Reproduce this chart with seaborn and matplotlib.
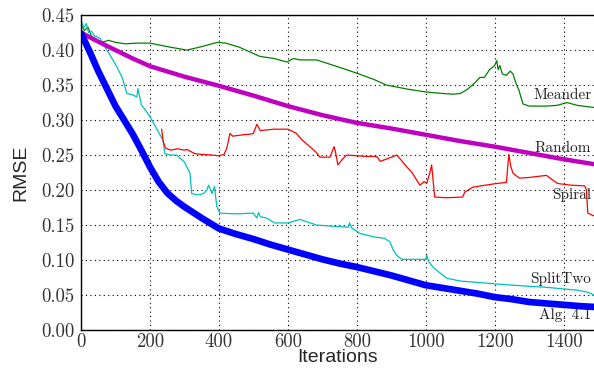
import numpy as np
import pandas as pd
import matplotlib
matplotlib.use("Agg")
import matplotlib.pyplot as plt
import seaborn as sns
from matplotlib.ticker import MultipleLocator

# ---- data ----
alg_x = [0, 25, 50, 75, 100, 125, 150, 175, 200, 225, 250, 275, 300, 350, 400, 450, 500, 550, 600, 650, 700, 750, 800, 850, 900, 950, 1000, 1050, 1100, 1150, 1200, 1250, 1300, 1350, 1400, 1450, 1488]
alg_y = [0.424, 0.398, 0.370, 0.345, 0.320, 0.300, 0.280, 0.257, 0.233, 0.212, 0.196, 0.185, 0.176, 0.160, 0.145, 0.137, 0.130, 0.122, 0.115, 0.108, 0.101, 0.095, 0.090, 0.084, 0.078, 0.071, 0.064, 0.060, 0.056, 0.052, 0.047, 0.044, 0.040, 0.038, 0.036, 0.034, 0.033]

rand_x = [0, 50, 100, 150, 200, 300, 400, 500, 600, 700, 800, 900, 1000, 1100, 1200, 1300, 1400, 1488]
rand_y = [0.425, 0.412, 0.400, 0.388, 0.377, 0.362, 0.349, 0.335, 0.320, 0.307, 0.296, 0.288, 0.279, 0.270, 0.262, 0.253, 0.244, 0.237]

mean_x = [0, 10, 20, 30, 45, 60, 80, 100, 130, 160, 200, 250, 307, 350, 394, 420, 460, 519, 560, 597, 616, 635, 683, 740, 800, 850, 886, 950, 1003, 1050, 1080, 1100, 1118, 1140, 1157, 1170, 1185, 1200, 1206, 1210, 1215, 1222, 1234, 1245, 1253, 1262, 1270, 1282, 1300, 1350, 1380, 1410, 1440, 1488]
mean_y = [0.436, 0.428, 0.433, 0.420, 0.415, 0.411, 0.414, 0.411, 0.409, 0.410, 0.410, 0.405, 0.400, 0.405, 0.411, 0.410, 0.404, 0.391, 0.388, 0.383, 0.388, 0.386, 0.386, 0.377, 0.367, 0.358, 0.350, 0.344, 0.340, 0.338, 0.337, 0.338, 0.343, 0.352, 0.361, 0.361, 0.372, 0.378, 0.385, 0.372, 0.378, 0.366, 0.364, 0.370, 0.366, 0.352, 0.343, 0.323, 0.320, 0.320, 0.321, 0.325, 0.321, 0.318]

spir_x = [234, 238, 245, 260, 280, 300, 307, 330, 350, 380, 400, 415, 423, 432, 440, 470, 493, 500, 510, 520, 560, 600, 625, 640, 664, 680, 693, 722, 734, 738, 745, 760, 771, 800, 830, 858, 868, 890, 916, 930, 945, 960, 983, 995, 1003, 1012, 1017, 1022, 1026, 1060, 1107, 1113, 1136, 1160, 1200, 1234, 1238, 1241, 1246, 1253, 1272, 1300, 1350, 1380, 1388, 1420, 1461, 1466, 1470, 1488]
spir_y = [0.287, 0.270, 0.260, 0.257, 0.259, 0.257, 0.258, 0.252, 0.251, 0.250, 0.249, 0.251, 0.260, 0.281, 0.277, 0.279, 0.280, 0.281, 0.294, 0.285, 0.287, 0.287, 0.281, 0.272, 0.262, 0.255, 0.247, 0.247, 0.262, 0.255, 0.236, 0.245, 0.250, 0.249, 0.248, 0.248, 0.241, 0.245, 0.250, 0.242, 0.233, 0.225, 0.207, 0.212, 0.210, 0.225, 0.236, 0.210, 0.190, 0.189, 0.190, 0.197, 0.204, 0.206, 0.209, 0.211, 0.235, 0.251, 0.235, 0.224, 0.217, 0.218, 0.221, 0.210, 0.209, 0.207, 0.206, 0.200, 0.167, 0.163]

split_x = [0, 8, 15, 22, 30, 40, 55, 70, 84, 104, 120, 133, 150, 162, 165, 175, 200, 220, 238, 243, 260, 277, 300, 316, 321, 340, 355, 365, 370, 380, 387, 394, 403, 450, 500, 510, 515, 520, 538, 562, 600, 635, 683, 740, 775, 779, 785, 809, 850, 880, 896, 905, 915, 930, 970, 1000, 1003, 1008, 1021, 1040, 1061, 1100, 1200, 1282, 1350, 1437, 1470, 1488]
split_y = [0.443, 0.432, 0.438, 0.425, 0.427, 0.420, 0.417, 0.404, 0.393, 0.376, 0.360, 0.338, 0.336, 0.333, 0.345, 0.322, 0.305, 0.287, 0.271, 0.252, 0.250, 0.250, 0.240, 0.224, 0.195, 0.193, 0.195, 0.200, 0.207, 0.195, 0.205, 0.176, 0.167, 0.166, 0.167, 0.160, 0.168, 0.162, 0.160, 0.153, 0.153, 0.158, 0.150, 0.148, 0.147, 0.153, 0.146, 0.138, 0.133, 0.131, 0.126, 0.115, 0.107, 0.101, 0.101, 0.101, 0.107, 0.098, 0.090, 0.082, 0.074, 0.070, 0.066, 0.063, 0.061, 0.057, 0.054, 0.050]

labels = ["Meander", "Random", "Spiral", "SplitTwo", "Alg. 4.1"]
label_y = [0.336, 0.260, 0.193, 0.073, 0.021]

x_ticks = [0, 200, 400, 600, 800, 1000, 1200, 1400]
y_ticks = [0.00, 0.05, 0.10, 0.15, 0.20, 0.25, 0.30, 0.35, 0.40, 0.45]

# ---- plotting ----
sns.set_style("white")
serif = ["cmr10", "DejaVu Serif"]

fig = plt.figure(figsize=(5.94, 3.69), dpi=100)
ax = fig.add_axes([0.1364, 0.1057, 0.8636, 0.8533])

sns.lineplot(x=mean_x, y=mean_y, ax=ax, color="#008000", lw=0.9, sort=False, estimator=None)
sns.lineplot(x=split_x, y=split_y, ax=ax, color="#00BFBF", lw=0.9, sort=False, estimator=None)
sns.lineplot(x=spir_x, y=spir_y, ax=ax, color="#FF0000", lw=0.9, sort=False, estimator=None)
sns.lineplot(x=rand_x, y=rand_y, ax=ax, color="#BF00BF", lw=3.2, sort=False, estimator=None)
sns.lineplot(x=alg_x, y=alg_y, ax=ax, color="#0000FF", lw=4.8, sort=False, estimator=None)

ax.set_xlim(0, 1488)
ax.set_ylim(0, 0.45)
ax.set_xticks(x_ticks)
ax.set_yticks(y_ticks)
ax.set_xticklabels([str(v) for v in x_ticks], family=serif, fontsize=13.5, color="#333333")
ax.set_yticklabels([f"{v:.2f}" for v in y_ticks], family=serif, fontsize=13.5, color="#333333")
ax.yaxis.set_minor_locator(MultipleLocator(0.005))
ax.tick_params(axis="y", which="minor", direction="in", length=2, width=0.6)
ax.tick_params(axis="y", which="major", direction="inout", length=5, width=0.8, pad=2)
ax.tick_params(axis="x", which="major", length=0, pad=2)

ax.grid(True, which="major", linestyle=(0, (1, 3)), color="black", lw=0.8)
for s in ["top", "left", "bottom"]:
    ax.spines[s].set_color("black")
    ax.spines[s].set_linewidth(1.0)
ax.spines["right"].set_visible(False)

ax.set_xlabel("Iterations", family=["Liberation Sans", "DejaVu Sans"], fontsize=14, labelpad=-1)
ax.set_ylabel("RMSE", family=["Liberation Sans", "DejaVu Sans"], fontsize=14, labelpad=9)

for name, yv in zip(labels, label_y):
    ax.text(1480, yv, name, ha="right", va="center", family=serif, fontsize=11, color="#222222")

fig.savefig("out.png", dpi=100)
